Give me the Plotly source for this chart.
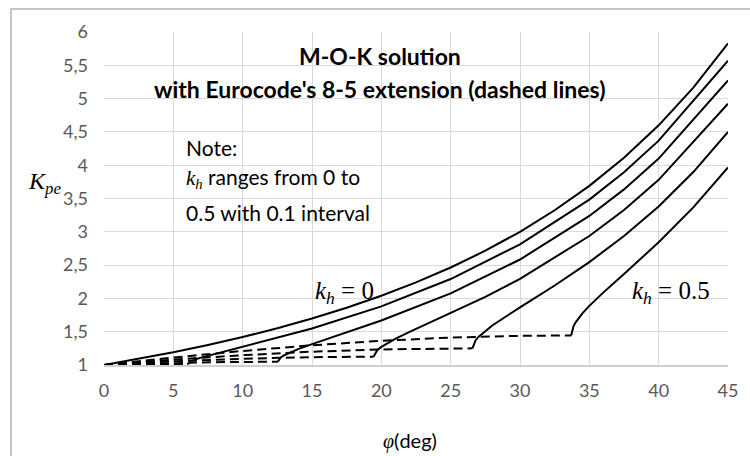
import plotly.graph_objects as go

# ---- data ----
kh_labels = ["0", "0.1", "0.2", "0.3", "0.4", "0.5"]

# M-O-K solution (solid lines)
phi_solid = [
    [0, 2.5, 5, 7.5, 10, 12.5, 15, 17.5, 20, 22.5, 25, 27.5, 30, 32.5, 35, 37.5, 40, 42.5, 45],
    [6.0, 6.5, 7, 8, 10, 15, 20, 25, 30, 35, 37.5, 40, 45],
    [12.53, 12.75, 13, 14, 15, 17.5, 20, 25, 30, 35, 37.5, 40, 45],
    [19.44, 19.7, 20, 21, 22, 25, 27.5, 30, 35, 37.5, 40, 45],
    [26.57, 26.8, 27, 28, 30, 32.5, 35, 37.5, 40, 42.5, 45],
    [33.69, 33.85, 34, 34.5, 35, 36, 37.5, 38, 40, 42.5, 45],
]
kpe_solid = [
    [1.0, 1.091, 1.191, 1.300, 1.420, 1.552, 1.698, 1.860, 2.040, 2.240, 2.464, 2.716, 3.000, 3.323, 3.690, 4.112, 4.599, 5.165, 5.828],
    [1.011, 1.077, 1.111, 1.167, 1.271, 1.548, 1.880, 2.291, 2.812, 3.483, 3.894, 4.369, 5.569],
    [1.049, 1.114, 1.147, 1.238, 1.313, 1.488, 1.668, 2.076, 2.584, 3.238, 3.637, 4.100, 5.272],
    [1.125, 1.221, 1.271, 1.393, 1.494, 1.778, 2.024, 2.294, 2.937, 3.328, 3.780, 4.922],
    [1.250, 1.372, 1.421, 1.594, 1.866, 2.194, 2.545, 2.936, 3.381, 3.897, 4.500],
    [1.444, 1.578, 1.636, 1.775, 1.888, 2.087, 2.367, 2.459, 2.842, 3.366, 3.966],
]

# Eurocode 8-5 extension (dashed lines), kh = 0.1 ... 0.5
phi_dashed = [
    [0, 3, 6.0],
    [0, 4, 8, 12.53],
    [0, 5, 10, 15, 19.44],
    [0, 5, 10, 15, 20, 26.57],
    [0, 5, 10, 15, 20, 25, 30, 33.69],
]
kpe_dashed = [
    [1.0, 1.008, 1.011],
    [1.0, 1.026, 1.043, 1.049],
    [1.0, 1.055, 1.094, 1.118, 1.125],
    [1.0, 1.081, 1.148, 1.200, 1.234, 1.250],
    [1.0, 1.112, 1.211, 1.296, 1.364, 1.412, 1.438, 1.444],
]

x_ticks = [0, 5, 10, 15, 20, 25, 30, 35, 40, 45]
y_ticks = [1, 1.5, 2, 2.5, 3, 3.5, 4, 4.5, 5, 5.5, 6]

# ---- figure ----
fig = go.Figure()

for i, (xs, ys) in enumerate(zip(phi_dashed, kpe_dashed)):
    fig.add_trace(go.Scatter(x=xs, y=ys, mode="lines",
                             line=dict(color="black", width=2, dash="9px,5px"),
                             name="EC8-5 kh=" + kh_labels[i + 1], showlegend=False))

for i, (xs, ys) in enumerate(zip(phi_solid, kpe_solid)):
    fig.add_trace(go.Scatter(x=xs, y=ys, mode="lines",
                             line=dict(color="black", width=2),
                             name="M-O-K kh=" + kh_labels[i], showlegend=False))

grid = "#d9d9d9"
tickc = "#595959"
sans = "Lato"
serif = "Liberation Serif"

fig.update_layout(
    width=750, height=456,
    margin=dict(l=104, r=22, t=32, b=91),
    paper_bgcolor="white", plot_bgcolor="white",
    separators=",.",
    showlegend=False,
    font=dict(family=sans, color=tickc, size=18),
)
fig.update_xaxes(range=[0, 45], tickvals=x_ticks, showgrid=True, gridcolor=grid, gridwidth=1,
                 zeroline=False, showline=True, linecolor="#cfcfcf", linewidth=1.5, mirror=False,
                 ticks="", ticklabelstandoff=9, tickfont=dict(family=sans, size=18, color=tickc))
fig.update_yaxes(range=[1, 6], tickvals=y_ticks, showgrid=True, gridcolor=grid, gridwidth=1,
                 zeroline=False, showline=False, ticks="", ticklabelstandoff=15,
                 tickfont=dict(family=sans, size=18, color=tickc))

# outer chart frame
fig.add_shape(type="rect", xref="paper", yref="paper",
              x0=-0.149, x1=1.06, y0=-0.33, y1=1.069,
              line=dict(color="#b4b4b4", width=1.5), fillcolor="rgba(0,0,0,0)", layer="below")

ann = []
ann.append(dict(x=0.442, y=0.928, text="<b>M-O-K solution</b>",
                font=dict(family=sans, size=23, color="black")))
ann.append(dict(x=0.442, y=0.829, text="<b>with Eurocode's 8-5 extension (dashed lines)</b>",
                font=dict(family=sans, size=23, color="black")))
ann.append(dict(x=0.128, y=0.652, text="Note:", xanchor="left",
                font=dict(family=sans, size=21, color="black")))
ann.append(dict(x=0.128, y=0.562, xanchor="left",
                text="<span style=\"font-family:'Liberation Serif'\"><i>k</i><sub><i>h</i></sub></span> ranges from 0 to",
                font=dict(family=sans, size=21, color="black")))
ann.append(dict(x=0.128, y=0.459, text="0.5 with 0.1 interval", xanchor="left",
                font=dict(family=sans, size=21, color="black")))
ann.append(dict(x=0.385, y=0.219, text="<i>k</i><sub><i>h</i></sub> = 0",
                font=dict(family=serif, size=25, color="black")))
ann.append(dict(x=0.909, y=0.219, text="<i>k</i><sub><i>h</i></sub> = 0.5",
                font=dict(family=serif, size=25, color="black")))
ann.append(dict(x=-0.0946, y=0.547, text="<i>K</i><sub><i>pe</i></sub>",
                font=dict(family=serif, size=24, color="black")))
ann.append(dict(x=0.490, y=-0.228,
                text="<span style=\"font-family:'Liberation Serif'\"><i>φ</i></span>(deg)",
                font=dict(family=sans, size=20, color="black")))
for a in ann:
    a.setdefault("xanchor", "center")
    a.update(xref="paper", yref="paper", yanchor="middle", showarrow=False)
fig.update_layout(annotations=ann)

fig.write_html("out.html")
